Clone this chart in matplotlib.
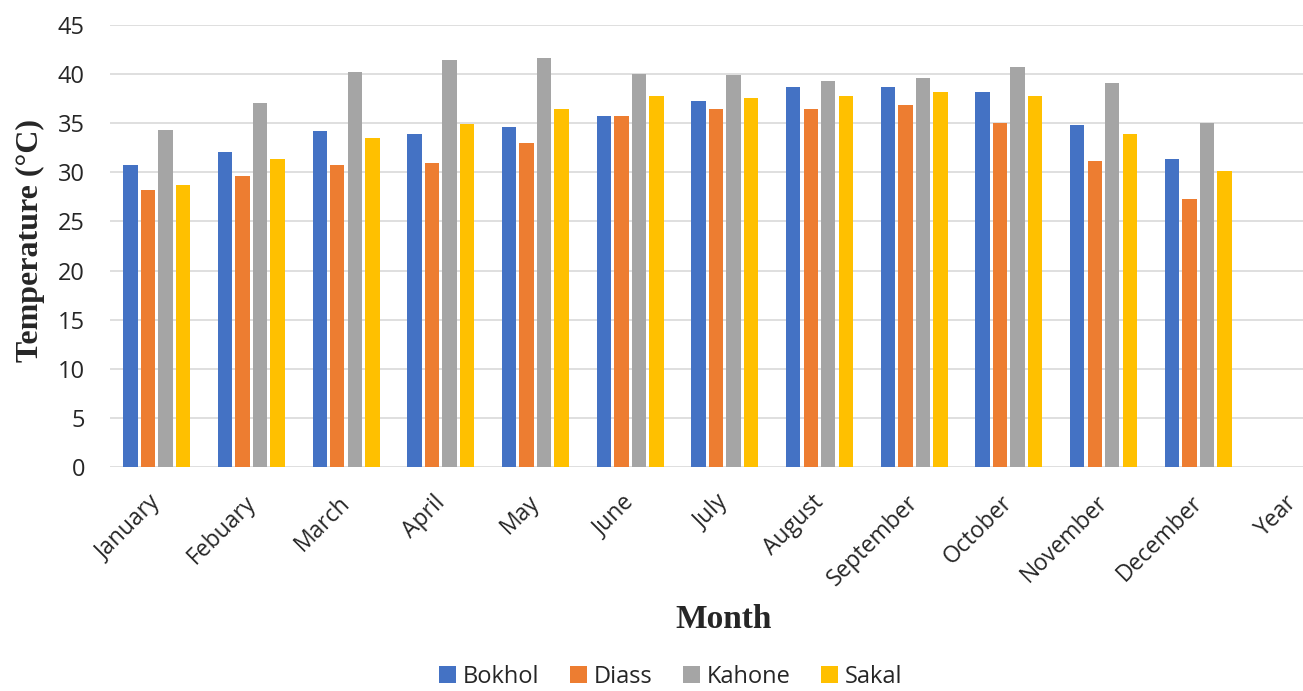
import matplotlib
matplotlib.use("Agg")
import matplotlib.pyplot as plt
import numpy as np
from matplotlib.transforms import ScaledTranslation

months = ["January", "Febuary", "March", "April", "May", "June", "July",
          "August", "September", "October", "November", "December", "Year"]
series_names = ["Bokhol", "Diass", "Kahone", "Sakal"]
bokhol = [30.7, 32.1, 34.2, 33.9, 34.6, 35.7, 37.3, 38.7, 38.7, 38.2, 34.8, 31.4]
diass  = [28.2, 29.6, 30.7, 31.0, 33.0, 35.7, 36.4, 36.4, 36.9, 35.0, 31.2, 27.3]
kahone = [34.3, 37.1, 40.2, 41.4, 41.6, 40.0, 39.9, 39.3, 39.6, 40.7, 39.1, 35.0]
sakal  = [28.7, 31.4, 33.5, 34.9, 36.4, 37.8, 37.6, 37.8, 38.2, 37.8, 33.9, 30.1]
yticks = [0, 5, 10, 15, 20, 25, 30, 35, 40, 45]

colors = ["#4472C4", "#ED7D31", "#A5A5A5", "#FFC000"]
W, H = 1303, 691
fig = plt.figure(figsize=(W / 100, H / 100), dpi=100)
ax = fig.add_axes([110 / W, (H - 467) / H, (W - 110) / W, (467 - 25) / H])

x = np.arange(len(bokhol))
stride = 0.185
bw = 0.152
for i, (name, vals) in enumerate(zip(series_names, [bokhol, diass, kahone, sakal])):
    ax.bar(x + (i - 1.5) * stride, vals, width=bw, color=colors[i], label=name, zorder=3)

ax.set_xlim(-0.493, 12.107)
ax.set_ylim(0, 45)
ax.set_yticks(yticks)
ax.yaxis.grid(True, color="#D9D9D9", linewidth=1.2, zorder=0)
ax.set_axisbelow(True)
for s in ax.spines.values():
    s.set_visible(False)
ax.tick_params(axis="both", length=0, colors="#262626")
ax.tick_params(axis="y", pad=18, labelsize=17)
ax.set_xticks(np.arange(len(months)))
ax.set_xticklabels(months, rotation=45, ha="right", va="top", rotation_mode="anchor",
                   fontfamily="Open Sans", fontsize=16.5)
for lab in ax.get_xticklabels():
    lab.set_transform(lab.get_transform() + ScaledTranslation(-8 / 100, -19 / 100, fig.dpi_scale_trans))
for lab in ax.get_yticklabels():
    lab.set_fontfamily("Open Sans")

fig.text(30 / W, 1 - 241 / H, "Temperature (°C)", rotation=90, ha="center", va="center",
         fontfamily="Liberation Serif", fontweight="bold", fontsize=23, color="#262626")
fig.text(724 / W, 1 - 620 / H, "Month", ha="center", va="center",
         fontfamily="Liberation Serif", fontweight="bold", fontsize=24, color="#262626")

leg = fig.legend(loc="center", bbox_to_anchor=(671 / W, 1 - 677 / H), ncol=4, frameon=False,
                 prop={"family": "Open Sans", "size": 17}, handlelength=0.7, handleheight=0.7,
                 handletextpad=0.3, columnspacing=1.3)
for t in leg.get_texts():
    t.set_color("#262626")

fig.savefig("out.png", dpi=100)
